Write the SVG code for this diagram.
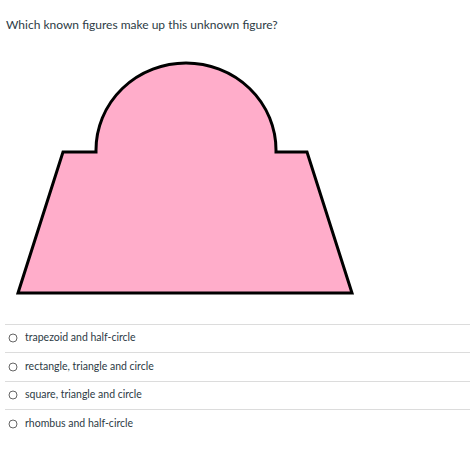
<svg xmlns="http://www.w3.org/2000/svg" width="470" height="450" viewBox="0 0 470 450">
<style>
.q{font-family:Lato,"Liberation Sans",sans-serif;font-size:12px;fill:#2d3b45}
.o{font-family:Lato,"Liberation Sans",sans-serif;font-size:10.5px;fill:#2d3b45}
.sep{stroke:#dcdcdc;stroke-width:1}
.rad{fill:#fff;stroke:#666;stroke-width:1}
</style>
<rect width="470" height="450" fill="#fff"/>
<text class="q" x="6" y="29">Which known figures make up this unknown figure?</text>
<g id="figure">
<path d="M18,293 L63,152 L96,152 L96,150 A90,87 0 0 1 276,150 L276,152 L307,152 L352,293 Z" fill="#ffadca" stroke="#000" stroke-width="3" stroke-linejoin="miter"/>
</g>
<g id="options">
<line class="sep" x1="5" y1="324.5" x2="470" y2="324.5"/>
<line class="sep" x1="5" y1="352.5" x2="470" y2="352.5"/>
<line class="sep" x1="5" y1="381.5" x2="470" y2="381.5"/>
<line class="sep" x1="5" y1="409.5" x2="470" y2="409.5"/>
<circle class="rad" cx="13" cy="338" r="4"/>
<circle class="rad" cx="13" cy="367" r="4"/>
<circle class="rad" cx="13" cy="395" r="4"/>
<circle class="rad" cx="13" cy="424" r="4"/>
<text class="o" x="25" y="341">trapezoid and half-circle</text>
<text class="o" x="25" y="370">rectangle, triangle and circle</text>
<text class="o" x="25" y="398">square, triangle and circle</text>
<text class="o" x="25" y="427">rhombus and half-circle</text>
</g>
</svg>
